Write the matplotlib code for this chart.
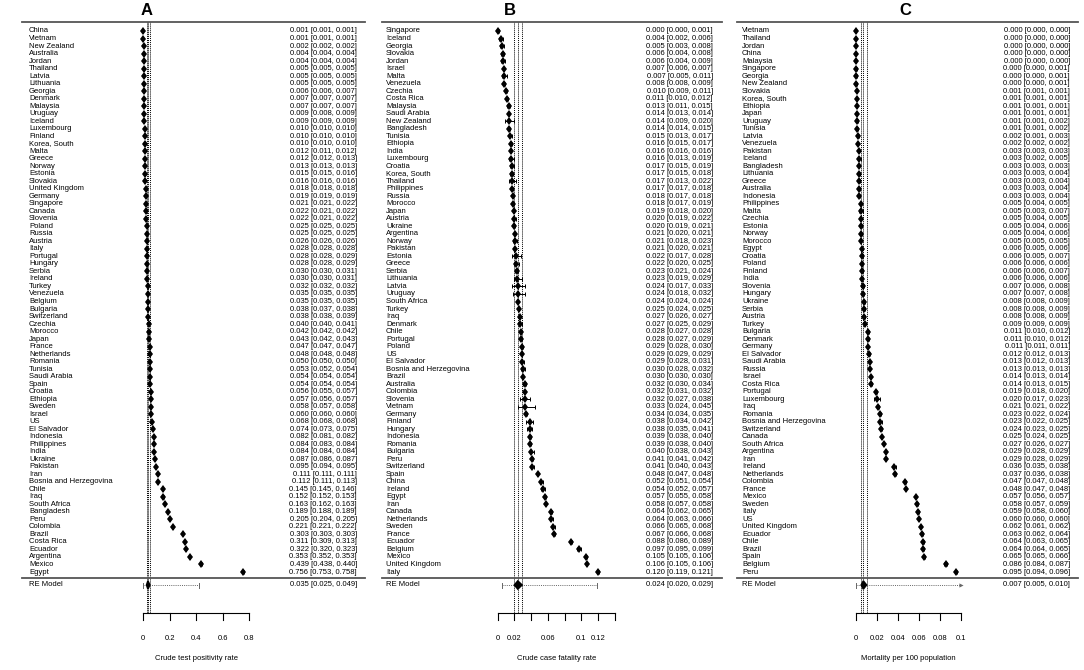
import numpy as np
import matplotlib
matplotlib.use('Agg')
import matplotlib.pyplot as plt
from matplotlib.patches import Polygon

plt.rcParams['font.family'] = ['Liberation Sans', 'DejaVu Sans']

# ---- panel A: crude test positivity rate ----
names_a = ['China', 'Vietnam', 'New Zealand', 'Australia', 'Jordan', 'Thailand', 'Latvia',
           'Lithuania', 'Georgia', 'Denmark', 'Malaysia', 'Uruguay', 'Iceland', 'Luxembourg',
           'Finland', 'Korea, South', 'Malta', 'Greece', 'Norway', 'Estonia', 'Slovakia',
           'United Kingdom', 'Germany', 'Singapore', 'Canada', 'Slovenia', 'Poland', 'Russia',
           'Austria', 'Italy', 'Portugal', 'Hungary', 'Serbia', 'Ireland', 'Turkey', 'Venezuela',
           'Belgium', 'Bulgaria', 'Switzerland', 'Czechia', 'Morocco', 'Japan', 'France',
           'Netherlands', 'Romania', 'Tunisia', 'Saudi Arabia', 'Spain', 'Croatia', 'Ethiopia',
           'Sweden', 'Israel', 'US', 'El Salvador', 'Indonesia', 'Philippines', 'India', 'Ukraine',
           'Pakistan', 'Iran', 'Bosnia and Herzegovina', 'Chile', 'Iraq', 'South Africa',
           'Bangladesh', 'Peru', 'Colombia', 'Brazil', 'Costa Rica', 'Ecuador', 'Argentina',
           'Mexico', 'Egypt']
est_a = [0.001, 0.001, 0.002, 0.004, 0.004, 0.005, 0.005, 0.005, 0.006, 0.007, 0.007, 0.009,
         0.009, 0.010, 0.010, 0.010, 0.012, 0.012, 0.013, 0.015, 0.016, 0.018, 0.019, 0.021,
         0.022, 0.022, 0.025, 0.025, 0.026, 0.028, 0.028, 0.028, 0.030, 0.030, 0.032, 0.035,
         0.035, 0.038, 0.038, 0.040, 0.042, 0.043, 0.047, 0.048, 0.050, 0.053, 0.054, 0.054,
         0.056, 0.057, 0.058, 0.060, 0.068, 0.074, 0.082, 0.084, 0.084, 0.087, 0.095, 0.111,
         0.112, 0.145, 0.152, 0.163, 0.189, 0.205, 0.221, 0.303, 0.311, 0.322, 0.353, 0.439,
         0.756]
lo_a = [0.001, 0.001, 0.002, 0.004, 0.004, 0.005, 0.005, 0.005, 0.006, 0.007, 0.007, 0.008,
        0.009, 0.010, 0.010, 0.010, 0.011, 0.012, 0.013, 0.015, 0.016, 0.018, 0.019, 0.021,
        0.021, 0.021, 0.025, 0.025, 0.026, 0.028, 0.028, 0.028, 0.030, 0.030, 0.032, 0.035,
        0.035, 0.037, 0.038, 0.040, 0.042, 0.042, 0.047, 0.048, 0.050, 0.052, 0.054, 0.054,
        0.055, 0.056, 0.057, 0.060, 0.068, 0.073, 0.081, 0.083, 0.084, 0.086, 0.094, 0.111,
        0.111, 0.145, 0.152, 0.162, 0.188, 0.204, 0.221, 0.303, 0.309, 0.320, 0.352, 0.438,
        0.753]
hi_a = [0.001, 0.001, 0.002, 0.004, 0.004, 0.005, 0.005, 0.005, 0.007, 0.007, 0.007, 0.009,
        0.009, 0.010, 0.010, 0.010, 0.012, 0.013, 0.013, 0.016, 0.016, 0.018, 0.019, 0.022,
        0.022, 0.022, 0.025, 0.025, 0.026, 0.028, 0.029, 0.029, 0.031, 0.031, 0.032, 0.035,
        0.035, 0.038, 0.039, 0.041, 0.042, 0.043, 0.047, 0.048, 0.050, 0.054, 0.054, 0.054,
        0.057, 0.057, 0.058, 0.060, 0.068, 0.075, 0.082, 0.084, 0.084, 0.087, 0.095, 0.111,
        0.113, 0.146, 0.153, 0.163, 0.189, 0.205, 0.222, 0.303, 0.313, 0.323, 0.353, 0.440,
        0.758]
re_a = (0.035, 0.025, 0.049)
pi_a = (0.0, 0.42)

# ---- panel B: crude case fatality rate ----
names_b = ['Singapore', 'Iceland', 'Georgia', 'Slovakia', 'Jordan', 'Israel', 'Malta',
           'Venezuela', 'Czechia', 'Costa Rica', 'Malaysia', 'Saudi Arabia', 'New Zealand',
           'Bangladesh', 'Tunisia', 'Ethiopia', 'India', 'Luxembourg', 'Croatia', 'Korea, South',
           'Thailand', 'Philippines', 'Russia', 'Morocco', 'Japan', 'Austria', 'Ukraine',
           'Argentina', 'Norway', 'Pakistan', 'Estonia', 'Greece', 'Serbia', 'Lithuania',
           'Latvia', 'Uruguay', 'South Africa', 'Turkey', 'Iraq', 'Denmark', 'Chile', 'Portugal',
           'Poland', 'US', 'El Salvador', 'Bosnia and Herzegovina', 'Brazil', 'Australia',
           'Colombia', 'Slovenia', 'Vietnam', 'Germany', 'Finland', 'Hungary', 'Indonesia',
           'Romania', 'Bulgaria', 'Peru', 'Switzerland', 'Spain', 'China', 'Ireland', 'Egypt',
           'Iran', 'Canada', 'Netherlands', 'Sweden', 'France', 'Ecuador', 'Belgium', 'Mexico',
           'United Kingdom', 'Italy']
est_b = [0.000, 0.004, 0.005, 0.006, 0.006, 0.007, 0.007, 0.008, 0.010, 0.011, 0.013, 0.014,
         0.014, 0.014, 0.015, 0.016, 0.016, 0.016, 0.017, 0.017, 0.017, 0.017, 0.018, 0.018,
         0.019, 0.020, 0.020, 0.021, 0.021, 0.021, 0.022, 0.022, 0.023, 0.023, 0.024, 0.024,
         0.024, 0.025, 0.027, 0.027, 0.028, 0.028, 0.029, 0.029, 0.029, 0.030, 0.030, 0.032,
         0.032, 0.032, 0.033, 0.034, 0.038, 0.038, 0.039, 0.039, 0.040, 0.041, 0.041, 0.048,
         0.052, 0.054, 0.057, 0.058, 0.064, 0.064, 0.066, 0.067, 0.088, 0.097, 0.105, 0.106,
         0.120]
lo_b = [0.000, 0.002, 0.003, 0.004, 0.004, 0.006, 0.005, 0.008, 0.009, 0.010, 0.011, 0.013,
        0.009, 0.014, 0.013, 0.015, 0.016, 0.013, 0.015, 0.015, 0.013, 0.017, 0.017, 0.017,
        0.018, 0.019, 0.019, 0.020, 0.018, 0.020, 0.017, 0.020, 0.021, 0.019, 0.017, 0.018,
        0.024, 0.024, 0.026, 0.025, 0.027, 0.027, 0.028, 0.029, 0.028, 0.028, 0.030, 0.030,
        0.031, 0.027, 0.024, 0.034, 0.034, 0.035, 0.038, 0.038, 0.038, 0.041, 0.040, 0.047,
        0.051, 0.052, 0.055, 0.057, 0.062, 0.063, 0.065, 0.066, 0.086, 0.095, 0.105, 0.105,
        0.119]
hi_b = [0.001, 0.006, 0.008, 0.008, 0.009, 0.007, 0.011, 0.009, 0.011, 0.012, 0.015, 0.014,
        0.020, 0.015, 0.017, 0.017, 0.016, 0.019, 0.019, 0.018, 0.022, 0.018, 0.018, 0.019,
        0.020, 0.022, 0.021, 0.021, 0.023, 0.021, 0.028, 0.025, 0.024, 0.029, 0.033, 0.032,
        0.024, 0.025, 0.027, 0.029, 0.028, 0.029, 0.030, 0.029, 0.031, 0.032, 0.030, 0.034,
        0.032, 0.038, 0.045, 0.035, 0.042, 0.041, 0.040, 0.040, 0.043, 0.042, 0.043, 0.048,
        0.054, 0.057, 0.058, 0.058, 0.065, 0.066, 0.068, 0.068, 0.089, 0.099, 0.106, 0.106,
        0.121]
re_b = (0.024, 0.020, 0.029)
pi_b = (0.005, 0.119)

# ---- panel C: mortality per 100 population ----
names_c = ['Vietnam', 'Thailand', 'Jordan', 'China', 'Malaysia', 'Singapore', 'Georgia',
           'New Zealand', 'Slovakia', 'Korea, South', 'Ethiopia', 'Japan', 'Uruguay', 'Tunisia',
           'Latvia', 'Venezuela', 'Pakistan', 'Iceland', 'Bangladesh', 'Lithuania', 'Greece',
           'Australia', 'Indonesia', 'Philippines', 'Malta', 'Czechia', 'Estonia', 'Norway',
           'Morocco', 'Egypt', 'Croatia', 'Poland', 'Finland', 'India', 'Slovenia', 'Hungary',
           'Ukraine', 'Serbia', 'Austria', 'Turkey', 'Bulgaria', 'Denmark', 'Germany',
           'El Salvador', 'Saudi Arabia', 'Russia', 'Israel', 'Costa Rica', 'Portugal',
           'Luxembourg', 'Iraq', 'Romania', 'Bosnia and Herzegovina', 'Switzerland', 'Canada',
           'South Africa', 'Argentina', 'Iran', 'Ireland', 'Netherlands', 'Colombia', 'France',
           'Mexico', 'Sweden', 'Italy', 'US', 'United Kingdom', 'Ecuador', 'Chile', 'Brazil',
           'Spain', 'Belgium', 'Peru']
est_c = [0.000, 0.000, 0.000, 0.000, 0.000, 0.000, 0.000, 0.000, 0.001, 0.001, 0.001, 0.001,
         0.001, 0.001, 0.002, 0.002, 0.003, 0.003, 0.003, 0.003, 0.003, 0.003, 0.003, 0.005,
         0.005, 0.005, 0.005, 0.005, 0.005, 0.006, 0.006, 0.006, 0.006, 0.006, 0.007, 0.007,
         0.008, 0.008, 0.008, 0.009, 0.011, 0.011, 0.011, 0.012, 0.013, 0.013, 0.014, 0.014,
         0.019, 0.020, 0.021, 0.023, 0.023, 0.024, 0.025, 0.027, 0.029, 0.029, 0.036, 0.037,
         0.047, 0.048, 0.057, 0.058, 0.059, 0.060, 0.062, 0.063, 0.064, 0.064, 0.065, 0.086,
         0.095]
lo_c = [0.000, 0.000, 0.000, 0.000, 0.000, 0.000, 0.000, 0.000, 0.001, 0.001, 0.001, 0.001,
        0.001, 0.001, 0.001, 0.002, 0.003, 0.002, 0.003, 0.003, 0.003, 0.003, 0.003, 0.004,
        0.003, 0.004, 0.004, 0.004, 0.005, 0.005, 0.005, 0.006, 0.006, 0.006, 0.006, 0.007,
        0.008, 0.008, 0.008, 0.009, 0.010, 0.010, 0.011, 0.012, 0.012, 0.013, 0.013, 0.013,
        0.018, 0.017, 0.021, 0.022, 0.022, 0.023, 0.024, 0.026, 0.028, 0.028, 0.035, 0.036,
        0.047, 0.047, 0.056, 0.057, 0.058, 0.060, 0.061, 0.062, 0.063, 0.064, 0.065, 0.084,
        0.094]
hi_c = [0.000, 0.000, 0.000, 0.000, 0.000, 0.001, 0.001, 0.001, 0.001, 0.001, 0.001, 0.001,
        0.002, 0.002, 0.003, 0.002, 0.003, 0.005, 0.003, 0.004, 0.004, 0.004, 0.004, 0.005,
        0.007, 0.005, 0.006, 0.006, 0.005, 0.006, 0.007, 0.006, 0.007, 0.006, 0.008, 0.008,
        0.009, 0.009, 0.009, 0.009, 0.012, 0.012, 0.011, 0.013, 0.013, 0.013, 0.014, 0.015,
        0.020, 0.023, 0.022, 0.024, 0.025, 0.025, 0.025, 0.027, 0.029, 0.029, 0.038, 0.038,
        0.048, 0.048, 0.057, 0.059, 0.060, 0.060, 0.062, 0.064, 0.065, 0.065, 0.066, 0.087,
        0.096]
re_c = (0.007, 0.005, 0.010)
pi_c = (0.0, 0.10)

ticks_a = [0, 0.2, 0.4, 0.6, 0.8]
ticklabels_a = ['0', '0.2', '0.4', '0.6', '0.8']
ticks_b = [0, 0.02, 0.04, 0.06, 0.08, 0.10, 0.12, 0.14]
ticklabels_b = ['0', '0.02', '', '0.06', '', '0.1', '0.12', '']
ticks_c = [0, 0.02, 0.04, 0.06, 0.08, 0.10]
ticklabels_c = ['0', '0.02', '0.04', '0.06', '0.08', '0.1']

W, H = 1084, 670
ROW_TOP, ROW_BOTTOM = 31.0, 572.0
RE_Y = 585.0
SEP_Y = 577.5
TOP_LINE_Y = 21.5
AXIS_Y = 613.0
FS = 5.5

# layout in pixels: panel span, zero position, px per unit, text columns, rule span, title
panels = [
    dict(tag='A', names=names_a, est=est_a, lo=lo_a, hi=hi_a, re=re_a, pi=pi_a,
         ticks=ticks_a, labels=ticklabels_a, xlabel='Crude test positivity rate',
         span=(0, 362), zero=143.3, scale=132.5, name_px=29, val_px=357,
         rule=(22, 365), title_px=147, arrow=False),
    dict(tag='B', names=names_b, est=est_b, lo=lo_b, hi=hi_b, re=re_b, pi=pi_b,
         ticks=ticks_b, labels=ticklabels_b, xlabel='Crude case fatality rate',
         span=(362, 724), zero=497.7, scale=838.0, name_px=386, val_px=713,
         rule=(382, 722), title_px=510, arrow=False),
    dict(tag='C', names=names_c, est=est_c, lo=lo_c, hi=hi_c, re=re_c, pi=pi_c,
         ticks=ticks_c, labels=ticklabels_c, xlabel='Mortality per 100 population',
         span=(724, 1084), zero=856.0, scale=1050.0, name_px=742, val_px=1070,
         rule=(737, 1078), title_px=905, arrow=True),
]

fig = plt.figure(figsize=(W / 100, H / 100), dpi=100)

for p in panels:
    x0, x1 = p['span']
    ax = fig.add_axes([x0 / W, 0, (x1 - x0) / W, 1])
    px = lambda v, p=p: (v - p['zero']) / p['scale']
    ax.set_xlim(px(x0), px(x1))
    ax.set_ylim(H, 0)
    ax.axis('off')

    n = len(p['names'])
    ys = np.linspace(ROW_TOP, ROW_BOTTOM, n)
    est = np.array(p['est'])
    lo = np.array(p['lo'])
    hi = np.array(p['hi'])

    # reference lines at pooled estimate and its CI
    re_est, re_lo, re_hi = p['re']
    for v in (re_lo, re_est, re_hi):
        ax.plot([v, v], [TOP_LINE_Y, AXIS_Y], color='black', lw=0.7,
                linestyle=(0, (1, 1)), zorder=1)

    # rules
    ax.plot([px(p['rule'][0]), px(p['rule'][1])], [TOP_LINE_Y, TOP_LINE_Y],
            color='#555555', lw=1.3, clip_on=False)
    ax.plot([px(p['rule'][0]), px(p['rule'][1])], [SEP_Y, SEP_Y],
            color='#555555', lw=1.3, clip_on=False)

    # study rows
    ax.errorbar(est, ys, xerr=[est - lo, hi - est], fmt='none', ecolor='black',
                elinewidth=0.7, capsize=1.7, capthick=0.7, zorder=3)
    ax.plot(est, ys, linestyle='none', marker='d', markersize=4.4, color='black',
            markeredgewidth=0, zorder=4)
    for y, name, e, l, h in zip(ys, p['names'], est, lo, hi):
        ax.text(px(p['name_px']), y, name, fontsize=FS, ha='left', va='center')
        ax.text(px(p['val_px']), y, f'{e:.3f} [{l:.3f}, {h:.3f}]', fontsize=FS,
                ha='right', va='center')

    # RE model: prediction interval + diamond
    pi_lo, pi_hi = p['pi']
    ax.plot([pi_lo, pi_hi], [RE_Y, RE_Y], color='#666666', lw=0.7,
            linestyle=(0, (1, 1.2)), zorder=2)
    ax.plot([pi_lo, pi_lo], [RE_Y - 2.5, RE_Y + 2.5], color='#666666', lw=0.7)
    if p['arrow']:
        ax.plot([pi_hi], [RE_Y], marker='>', markersize=3, color='#666666',
                markeredgewidth=0)
    else:
        ax.plot([pi_hi, pi_hi], [RE_Y - 2.5, RE_Y + 2.5], color='#666666', lw=0.7)
    diamond = Polygon([(re_lo, RE_Y), (re_est, RE_Y - 4), (re_hi, RE_Y), (re_est, RE_Y + 4)],
                      closed=True, facecolor='black', edgecolor='black', lw=1.2, zorder=5)
    ax.add_patch(diamond)
    ax.text(px(p['name_px']), RE_Y, 'RE Model', fontsize=FS, ha='left', va='center')
    ax.text(px(p['val_px']), RE_Y, f'{re_est:.3f} [{re_lo:.3f}, {re_hi:.3f}]',
            fontsize=FS, ha='right', va='center')

    # bottom axis
    t = p['ticks']
    ax.plot([t[0], t[-1]], [AXIS_Y, AXIS_Y], color='black', lw=0.8)
    for tv, tl in zip(t, p['labels']):
        ax.plot([tv, tv], [AXIS_Y, AXIS_Y + 7], color='black', lw=0.8)
        if tl:
            ax.text(tv, 638, tl, fontsize=FS, ha='center', va='center')
    ax.text((t[0] + t[-1]) / 2, 659, p['xlabel'], fontsize=FS, ha='center', va='center')

    # panel letter
    ax.text(px(p['title_px']), 10.5, p['tag'], fontsize=12, fontweight='bold',
            ha='center', va='center')

fig.savefig('out.png', dpi=100)
